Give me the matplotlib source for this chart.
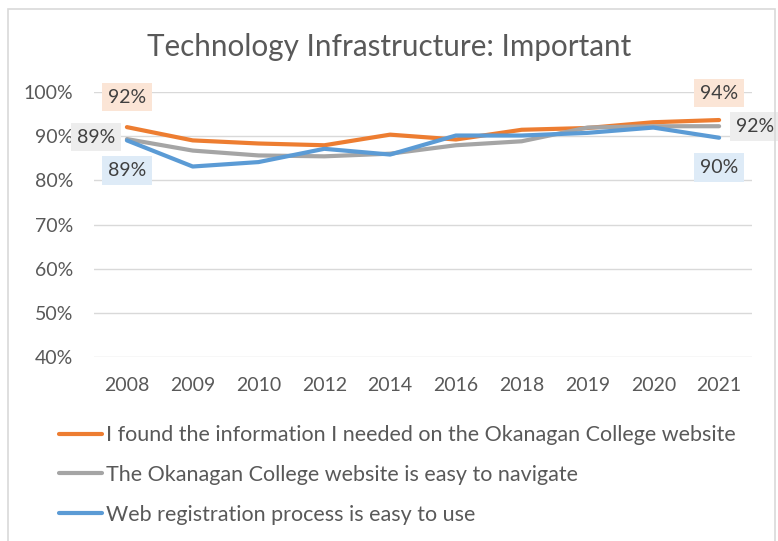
import matplotlib.pyplot as plt
from matplotlib.patches import Rectangle

years = ["2008", "2009", "2010", "2012", "2014", "2016", "2018", "2019", "2020", "2021"]
found_info = [92.0, 89.0, 88.3, 87.9, 90.3, 89.2, 91.4, 91.8, 93.1, 93.6]
easy_nav = [89.3, 86.7, 85.6, 85.4, 86.0, 87.9, 88.8, 91.9, 92.2, 92.2]
web_reg = [89.0, 83.1, 84.1, 87.1, 85.8, 90.1, 90.1, 90.7, 91.9, 89.6]

labels = ["I found the information I needed on the Okanagan College website",
          "The Okanagan College website is easy to navigate",
          "Web registration process is easy to use"]
colors = ["#ED7D31", "#A5A5A5", "#5B9BD5"]
box_colors = ["#FBE5D6", "#EDEDED", "#DEEBF7"]

plt.rcParams['font.family'] = ['Lato', 'DejaVu Sans']
text_col = "#595959"

fig = plt.figure(figsize=(7.78, 5.41), dpi=100)
W, H = 778, 541
ax = fig.add_axes([94 / W, (H - 357.3) / H, (752 - 94) / W, (357.3 - 91.7) / H])

# chart frame
fig.patches.append(Rectangle((8 / W, -0.05), (775 - 8) / W, (H - 9) / H + 0.05,
                             transform=fig.transFigure, fill=False,
                             edgecolor="#D9D9D9", linewidth=1.2))

x = list(range(len(years)))
series = [found_info, easy_nav, web_reg]
for vals, lab, c in zip(series, labels, colors):
    ax.plot(x, vals, color=c, linewidth=3, label=lab, solid_capstyle='round', zorder=3)

ax.set_xlim(-0.5, len(years) - 0.5)
ax.set_ylim(40, 100)
ax.set_yticks(range(40, 101, 10))
ax.set_yticklabels([f"{v}%" for v in range(40, 101, 10)])
ax.set_xticks(x)
ax.set_xticklabels(years)
ax.tick_params(length=0, labelsize=14, colors=text_col)
ax.tick_params(axis='x', pad=14)
ax.tick_params(axis='y', pad=15)
for s in ax.spines.values():
    s.set_visible(False)
ax.grid(axis='y', color="#D9D9D9", linewidth=1)
ax.set_axisbelow(True)

fig.text(0.5, (H - 47) / H, "Technology Infrastructure: Important", ha='center', va='center',
         fontsize=21.3, color=text_col)

# data labels at first and last points
offsets_first = [(0, 30), (-31, 2), (0, -30)]
offsets_last = [(0, 27), (36, 0), (0, -30)]
for vals, bc, o1, o2 in zip(series, box_colors, offsets_first, offsets_last):
    for i, off in ((0, o1), (len(years) - 1, o2)):
        ax.annotate(f"{round(vals[i])}%", (i, vals[i]), xytext=off, textcoords='offset pixels',
                    ha='center', va='center', fontsize=14, color="#404040",
                    bbox=dict(boxstyle='square,pad=0.3', facecolor=bc, edgecolor='none'),
                    zorder=4, annotation_clip=False)

fig.legend(loc='center left', bbox_to_anchor=(50 / W, (H - 475) / H), frameon=False,
           fontsize=15.5, labelcolor=text_col, handlelength=2.0, handletextpad=0.2,
           labelspacing=0.92, borderaxespad=0)

fig.savefig("out.png", dpi=100)
